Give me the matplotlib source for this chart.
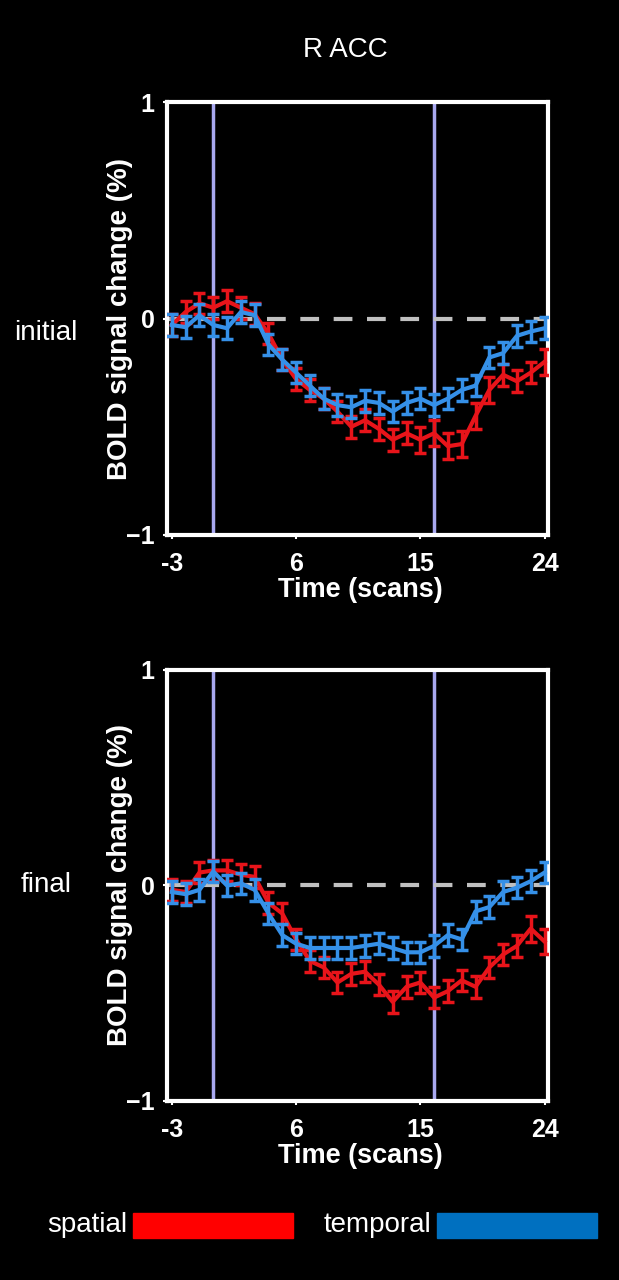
import matplotlib
matplotlib.use("Agg")
import matplotlib.pyplot as plt
from matplotlib.patches import Rectangle

plt.rcParams['font.family'] = ['Liberation Sans', 'DejaVu Sans']

time = list(range(-3, 25))
event_lines = [0, 16]
x_ticks = [-3, 6, 15, 24]
y_ticks = [-1, 0, 1]
y_ticklabels = ['\u22121', '0', '1']

initial_spatial = [-0.03, 0.03, 0.07, 0.05, 0.08, 0.05, 0.02, -0.07, -0.19, -0.28,
                   -0.33, -0.37, -0.43, -0.50, -0.47, -0.51, -0.56, -0.53, -0.56, -0.53,
                   -0.59, -0.58, -0.45, -0.33, -0.26, -0.29, -0.25, -0.20]
initial_spatial_err = [0.05, 0.05, 0.05, 0.05, 0.05, 0.05, 0.05, 0.05, 0.05, 0.05,
                       0.05, 0.05, 0.05, 0.05, 0.05, 0.05, 0.05, 0.05, 0.06, 0.06,
                       0.06, 0.06, 0.06, 0.06, 0.05, 0.05, 0.05, 0.06]
initial_temporal = [-0.03, -0.04, 0.015, -0.03, -0.045, 0.03, 0.015, -0.12, -0.19, -0.25,
                    -0.31, -0.37, -0.40, -0.41, -0.38, -0.39, -0.43, -0.39, -0.37, -0.40,
                    -0.37, -0.33, -0.31, -0.18, -0.16, -0.08, -0.06, -0.045]
initial_temporal_err = [0.05, 0.05, 0.05, 0.05, 0.05, 0.05, 0.05, 0.05, 0.05, 0.05,
                        0.05, 0.05, 0.05, 0.05, 0.05, 0.05, 0.05, 0.05, 0.05, 0.05,
                        0.05, 0.05, 0.05, 0.05, 0.05, 0.05, 0.05, 0.05]

final_spatial = [-0.02, -0.03, 0.06, 0.07, 0.07, 0.05, 0.04, -0.08, -0.13, -0.25,
                 -0.35, -0.38, -0.45, -0.41, -0.40, -0.46, -0.54, -0.47, -0.45, -0.52,
                 -0.49, -0.44, -0.47, -0.38, -0.32, -0.28, -0.20, -0.26]
final_spatial_err = [0.05, 0.05, 0.05, 0.05, 0.05, 0.05, 0.05, 0.05, 0.05, 0.05,
                     0.05, 0.05, 0.05, 0.05, 0.05, 0.05, 0.05, 0.05, 0.05, 0.05,
                     0.05, 0.05, 0.05, 0.05, 0.05, 0.05, 0.06, 0.06]
final_temporal = [-0.03, -0.04, -0.02, 0.065, 0.0, 0.01, -0.02, -0.13, -0.23, -0.27,
                  -0.29, -0.29, -0.29, -0.29, -0.28, -0.27, -0.29, -0.31, -0.31, -0.28,
                  -0.23, -0.25, -0.12, -0.10, -0.03, -0.01, 0.02, 0.06]
final_temporal_err = [0.05, 0.05, 0.05, 0.05, 0.05, 0.05, 0.05, 0.05, 0.05, 0.05,
                      0.05, 0.05, 0.05, 0.05, 0.05, 0.05, 0.05, 0.05, 0.05, 0.05,
                      0.05, 0.05, 0.05, 0.05, 0.05, 0.05, 0.05, 0.05]

title = "R ACC"
row_labels = ["initial", "final"]
legend_labels = ["spatial", "temporal"]

RED = '#e8141a'
BLUE = '#3590e8'
LEG_RED = '#ff0000'
LEG_BLUE = '#0070c0'
LAV = '#a8a8f0'

fig = plt.figure(figsize=(6.19, 12.80), dpi=100, facecolor='black')

fig.text(345/619, 1 - 50/1280, title, color='white', fontsize=20, ha='center', va='center')

axes_specs = [
    (1 - 535/1280, (535-102)/1280, initial_spatial, initial_spatial_err,
     initial_temporal, initial_temporal_err, row_labels[0], 1 - 333/1280),
    (1 - 1101/1280, (1101-670)/1280, final_spatial, final_spatial_err,
     final_temporal, final_temporal_err, row_labels[1], 1 - 885/1280),
]

for bottom, height, sp, spe, tp, tpe, lab, laby in axes_specs:
    ax = fig.add_axes([167/619, bottom, (548-167)/619, height])
    ax.set_facecolor('black')
    for v in event_lines:
        ax.axvline(v, color=LAV, lw=2.5, zorder=1)
    ax.axhline(0, color='#c0c0c0', lw=3, dashes=(4.5, 3.5), zorder=1)
    ax.errorbar(time, sp, yerr=spe, color=RED, lw=3, elinewidth=2.5,
                capsize=4, capthick=2.5, zorder=3)
    ax.errorbar(time, tp, yerr=tpe, color=BLUE, lw=3, elinewidth=2.5,
                capsize=4, capthick=2.5, zorder=4)
    ax.set_xlim(-3.35, 24.25)
    ax.set_ylim(-1, 1)
    ax.set_xticks(x_ticks)
    ax.set_xticklabels([str(t) for t in x_ticks], fontweight='bold')
    ax.set_yticks(y_ticks)
    ax.set_yticklabels(y_ticklabels, fontweight='bold')
    ax.tick_params(colors='white', labelsize=18, length=3, width=1.5)
    ax.tick_params(axis='x', pad=9)
    ax.tick_params(axis='y', pad=6)
    for s in ax.spines.values():
        s.set_color('white')
        s.set_linewidth(3)
    ax.set_xlabel('Time (scans)', color='white', fontsize=19.5, fontweight='bold')
    ax.xaxis.set_label_coords(0.507, -0.097)
    ax.set_ylabel('BOLD signal change (%)', color='white', fontsize=20,
                  fontweight='bold')
    ax.yaxis.set_label_coords(-0.089, 0.5)
    fig.text(46/619, laby, lab, color='white', fontsize=20, ha='center', va='center')

# legend
fig.text(127/619, 1 - 1225/1280, legend_labels[0], color='white', fontsize=20,
         ha='right', va='center')
fig.patches.append(Rectangle((133/619, 1 - 1238/1280), 160/619, 25/1280,
                             transform=fig.transFigure, color=LEG_RED, figure=fig))
fig.text(431/619, 1 - 1225/1280, legend_labels[1], color='white', fontsize=20,
         ha='right', va='center')
fig.patches.append(Rectangle((437/619, 1 - 1238/1280), 160/619, 25/1280,
                             transform=fig.transFigure, color=LEG_BLUE, figure=fig))

fig.savefig('out.png', dpi=100, facecolor='black')
